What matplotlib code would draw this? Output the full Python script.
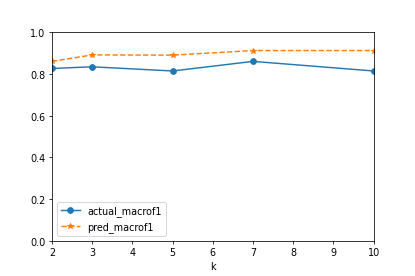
import numpy as np
import matplotlib
matplotlib.use("Agg")
import matplotlib.pyplot as plt

k = [2, 3, 5, 7, 10]
actual_macrof1 = [0.827, 0.835, 0.815, 0.861, 0.815]
pred_macrof1 = [0.861, 0.892, 0.891, 0.913, 0.913]

fig, ax = plt.subplots(figsize=(6, 4), dpi=69.2)
fig.subplots_adjust(left=0.125, right=0.9, top=0.88, bottom=0.127)

ax.plot(k, actual_macrof1, marker='o', label='actual_macrof1')
ax.plot(k, pred_macrof1, marker='*', linestyle='--', label='pred_macrof1')
ax.set_xlim(2, 10)
ax.set_ylim(0, 1)
ax.set_xlabel("k")
ax.legend(loc='lower left')
fig.savefig("out.png", dpi=69.2)
